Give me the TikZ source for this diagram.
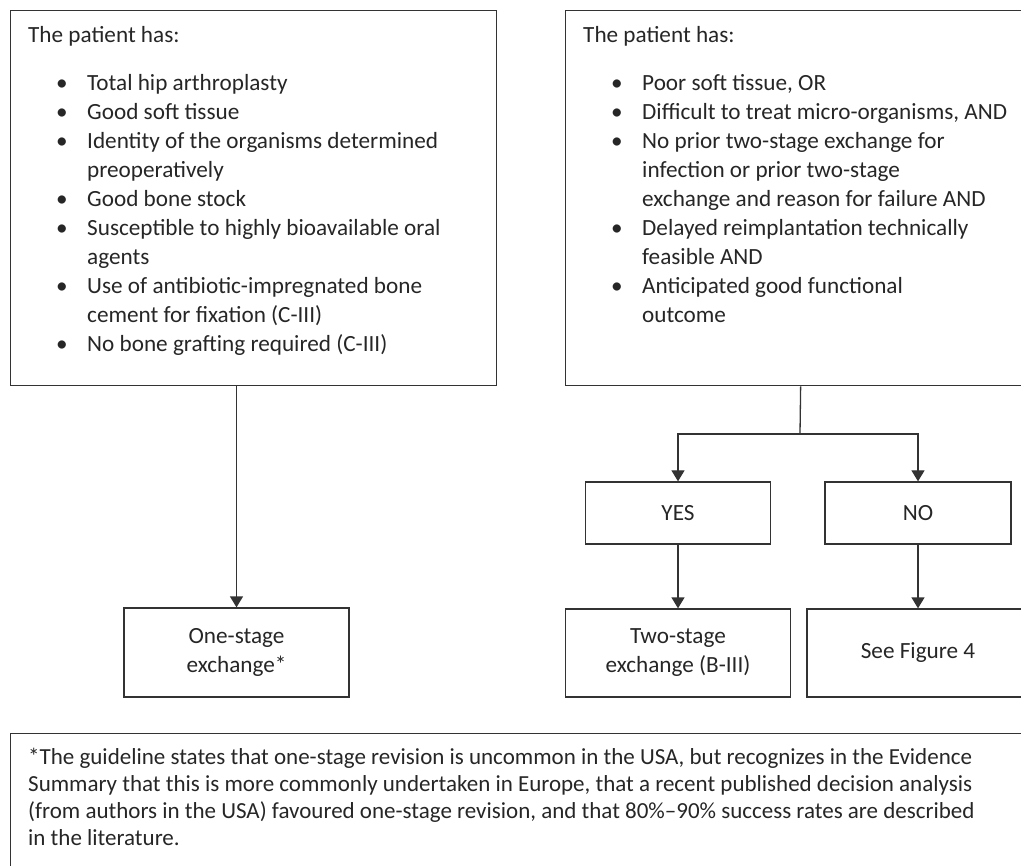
\documentclass[tikz,border=0pt]{standalone}
\usepackage{fontspec}
\setmainfont{Carlito}
\usepackage{tikz}
\usetikzlibrary{positioning, arrows.meta, calc}

\newcommand{\blt}{\hspace*{28pt}\makebox[31pt][l]{\textbullet}}
\newcommand{\bind}{\hspace*{59pt}}

\begin{document}
\begin{tikzpicture}[
    x=1pt, y=-1pt,
    box/.style={rectangle, draw=black!80, line width=1.3pt, inner sep=0pt, anchor=north west},
    boxtext/.style={inner sep=0pt, anchor=north west, align=left, text=black!85,
                    font=\fontsize{23.2}{29}\selectfont},
    result/.style={rectangle, draw=black!80, line width=1.3pt, inner sep=0pt, align=center,
                   text=black!85, font=\fontsize{23.2}{29}\selectfont},
    line/.style={draw=black!80, line width=1.3pt},
    arrow/.style={line, -{Triangle[length=11pt, width=13pt]}}
]

    \useasboundingbox (0,0) rectangle (1021,866);
    \clip (0,0) rectangle (1021,866);

    % === Criteria boxes ===
    \node[box, minimum width=486pt, minimum height=375pt] (leftbox) at (10,10) {};
    \node[boxtext] (lefttxt) at (28,26.5) {The patient has:\\[19pt]
        \blt Total hip arthroplasty\\
        \blt Good soft tissue\\
        \blt Identity of the organisms determined\\
        \bind preoperatively\\
        \blt Good bone stock\\
        \blt Susceptible to highly bioavailable oral\\
        \bind agents\\
        \blt Use of antibiotic-impregnated bone\\
        \bind cement for fixation (C-III)\\
        \blt No bone grafting required (C-III)};

    \node[box, minimum width=470pt, minimum height=375pt] (rightbox) at (565,10) {};
    \node[boxtext] (righttxt) at (583,26.5) {The patient has:\\[19pt]
        \blt Poor soft tissue, OR\\
        \blt Difficult to treat micro-organisms, AND\\
        \blt No prior two-stage exchange for\\
        \bind infection or prior two-stage\\
        \bind exchange and reason for failure AND\\
        \blt Delayed reimplantation technically\\
        \bind feasible AND\\
        \blt Anticipated good functional\\
        \bind outcome};

    % === Decision and outcomes ===
    \coordinate (split) at (800,434);
    \node[result, minimum width=185pt, minimum height=62pt] (yes) at (678,513) {YES};
    \node[result, minimum width=186pt, minimum height=62pt] (no) at (918,513) {NO};

    \node[result, minimum width=225pt, minimum height=89pt] (onestage) at (236.5,652.5) {One-stage\\exchange*};
    \node[result, minimum width=225pt, minimum height=88pt] (twostage) at (678,653) {Two-stage\\exchange (B-III)};
    \node[result, minimum width=222pt, minimum height=88pt] (seefig) at (918,653) {See Figure 4};

    \draw[arrow] (onestage.north |- leftbox.south) -- (onestage.north);
    \draw[line] (rightbox.south) -- (split);
    \draw[arrow] (split) -| (yes.north);
    \draw[arrow] (split) -| (no.north);
    \draw[arrow] (yes) -- (twostage);
    \draw[arrow] (no) -- (seefig);

    % === Footnote ===
    \node[box, minimum width=1020pt, minimum height=200pt] (notebox) at (10,733) {};
    \node[boxtext, font=\fontsize{23}{27}\selectfont] (notetxt) at (28,748) {*The guideline states that one-stage revision is uncommon in the USA, but recognizes in the Evidence\\
        Summary that this is more commonly undertaken in Europe, that a recent published decision analysis\\
        (from authors in the USA) favoured one-stage revision, and that 80\%--90\% success rates are described\\
        in the literature.};

\end{tikzpicture}
\end{document}
